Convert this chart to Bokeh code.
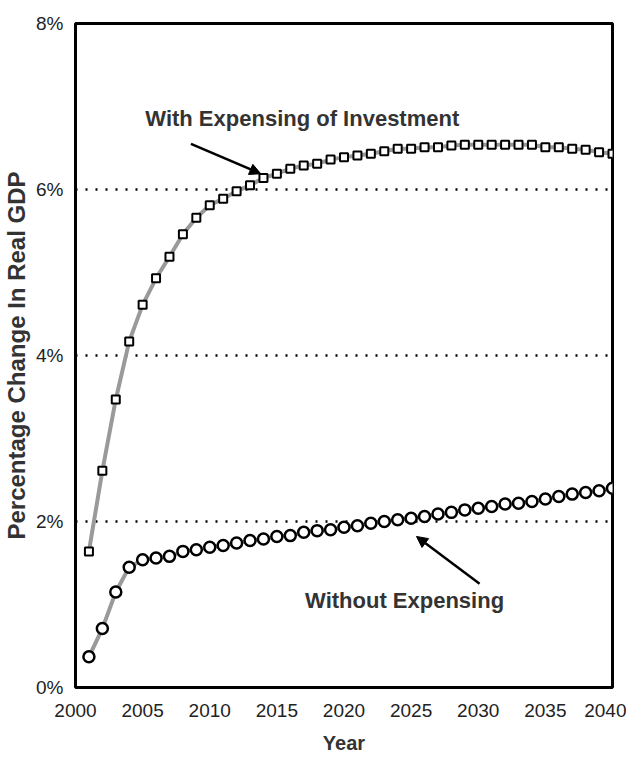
from bokeh.plotting import figure
from bokeh.models import (ColumnDataSource, FixedTicker, CustomJSTickFormatter, Arrow,
                          NormalHead, Label, Range1d)
from bokeh.embed import file_html
from bokeh.resources import INLINE

years = list(range(2001, 2041))

with_expensing = [1.64, 2.61, 3.47, 4.17, 4.61, 4.93, 5.19, 5.46, 5.66, 5.81,
                  5.89, 5.98, 6.05, 6.14, 6.19, 6.25, 6.29, 6.31, 6.36, 6.39,
                  6.41, 6.43, 6.46, 6.49, 6.49, 6.51, 6.51, 6.53, 6.54, 6.54,
                  6.54, 6.54, 6.54, 6.54, 6.51, 6.51, 6.49, 6.48, 6.45, 6.43]

without_expensing = [0.37, 0.71, 1.15, 1.45, 1.54, 1.56, 1.58, 1.64, 1.66, 1.69,
                     1.71, 1.74, 1.77, 1.79, 1.82, 1.83, 1.87, 1.89, 1.90, 1.93,
                     1.95, 1.98, 2.00, 2.02, 2.04, 2.06, 2.09, 2.11, 2.14, 2.16,
                     2.18, 2.21, 2.22, 2.24, 2.27, 2.30, 2.33, 2.35, 2.37, 2.40]

x_ticks = [2000, 2005, 2010, 2015, 2020, 2025, 2030, 2035, 2040]
y_ticks = [0, 2, 4, 6, 8]

label_with = "With Expensing of Investment"
label_without = "Without Expensing"
x_title = "Year"
y_title = "Percentage Change In Real GDP"

FONT = "Liberation Sans"
TXT = "#222222"

src = ColumnDataSource(dict(year=years, w=with_expensing, wo=without_expensing))

p = figure(frame_width=537, frame_height=664, output_backend="svg", toolbar_location=None,
           x_range=Range1d(2000, 2040), y_range=Range1d(0, 8),
           min_border_left=67, min_border_top=23, min_border_right=14, min_border_bottom=66)
p.background_fill_color = "white"
p.border_fill_color = "white"
p.outline_line_color = "black"
p.outline_line_width = 3

p.xaxis.ticker = FixedTicker(ticks=x_ticks)
p.yaxis.ticker = FixedTicker(ticks=y_ticks)
p.yaxis.formatter = CustomJSTickFormatter(code="return tick + '%';")

for ax in (p.xaxis[0], p.yaxis[0]):
    ax.axis_line_color = None
    ax.major_tick_line_color = None
    ax.minor_tick_line_color = None
    ax.major_label_text_font = FONT
    ax.major_label_text_font_size = "19px"
    ax.major_label_text_color = TXT
    ax.axis_label_text_font = FONT
    ax.axis_label_text_font_style = "bold"
    ax.axis_label_text_color = "#333333"

p.xaxis.axis_label = x_title
p.xaxis.axis_label_text_font_size = "20px"
p.xaxis.major_label_standoff = 10
p.xaxis.axis_label_standoff = 12

p.yaxis.axis_label = y_title
p.yaxis.axis_label_text_font_size = "24px"
p.yaxis.major_label_standoff = 6
p.yaxis.axis_label_standoff = 3

p.xgrid.grid_line_color = None
p.ygrid.ticker = FixedTicker(ticks=y_ticks)
p.ygrid.grid_line_color = "black"
p.ygrid.grid_line_width = 2.5
p.ygrid.grid_line_dash = "2 8"

# series lines
p.line("year", "w", source=src, line_color="#9a9a9a", line_width=4)
p.line("year", "wo", source=src, line_color="#9a9a9a", line_width=4)

# markers
p.scatter("year", "w", source=src, marker="square", size=8, line_color="black",
          line_width=2, fill_color="white")
p.scatter("year", "wo", source=src, marker="circle", size=11, line_color="black",
          line_width=2.5, fill_color="white")

# annotations
p.add_layout(Label(x=2005.2, y=6.86, text=label_with, text_font=FONT, text_font_size="22px",
                   text_font_style="bold", text_color="#333333", text_baseline="middle"))
p.add_layout(Label(x=2017.1, y=1.05, text=label_without, text_font=FONT, text_font_size="22px",
                   text_font_style="bold", text_color="#333333", text_baseline="middle"))

p.add_layout(Arrow(x_start=2008.6, y_start=6.55, x_end=2013.8, y_end=6.19,
                   line_color="black", line_width=2.5,
                   end=NormalHead(size=11, fill_color="black", line_color="black")))
p.add_layout(Arrow(x_start=2030.1, y_start=1.25, x_end=2025.4, y_end=1.82,
                   line_color="black", line_width=2.5,
                   end=NormalHead(size=11, fill_color="black", line_color="black")))

open("out.html", "w").write(file_html(p, INLINE))
